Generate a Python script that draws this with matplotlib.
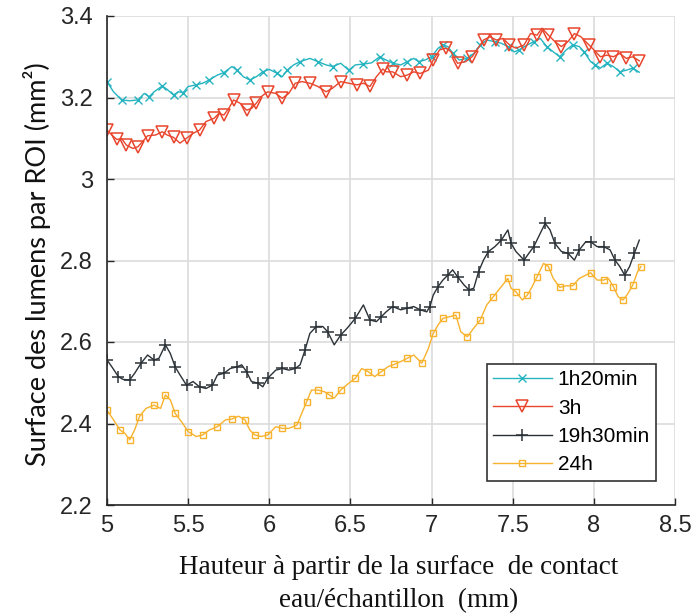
import matplotlib
matplotlib.use("Agg")
import matplotlib.pyplot as plt

# ---- data ----
x_1h20 = [5.00, 5.04, 5.09, 5.14, 5.19, 5.23, 5.26, 5.29, 5.34, 5.37, 5.41, 5.44, 5.47, 5.50,
          5.55, 5.59, 5.63, 5.68, 5.72, 5.77, 5.80, 5.84, 5.88, 5.92, 5.96, 6.00, 6.05, 6.08,
          6.11, 6.15, 6.19, 6.25, 6.30, 6.35, 6.39, 6.44, 6.49, 6.53, 6.58, 6.63, 6.68, 6.72,
          6.76, 6.81, 6.85, 6.89, 6.92, 6.96, 7.00, 7.04, 7.07, 7.10, 7.13, 7.17, 7.22, 7.26,
          7.30, 7.34, 7.39, 7.43, 7.47, 7.51, 7.54, 7.59, 7.63, 7.67, 7.71, 7.75, 7.79, 7.83,
          7.87, 7.91, 7.94, 7.98, 8.01, 8.04, 8.08, 8.12, 8.16, 8.20, 8.24, 8.28]
y_1h20 = [3.239, 3.214, 3.194, 3.192, 3.194, 3.210, 3.202, 3.214, 3.228, 3.220, 3.206, 3.214,
          3.212, 3.227, 3.231, 3.235, 3.243, 3.255, 3.261, 3.276, 3.267, 3.251, 3.243, 3.251,
          3.263, 3.269, 3.259, 3.251, 3.267, 3.280, 3.288, 3.296, 3.288, 3.280, 3.276, 3.284,
          3.267, 3.280, 3.282, 3.285, 3.300, 3.292, 3.284, 3.280, 3.288, 3.296, 3.288, 3.292,
          3.300, 3.321, 3.329, 3.325, 3.308, 3.292, 3.296, 3.308, 3.329, 3.341, 3.337, 3.333,
          3.325, 3.312, 3.317, 3.329, 3.337, 3.345, 3.325, 3.312, 3.300, 3.317, 3.329, 3.325,
          3.312, 3.288, 3.280, 3.272, 3.284, 3.276, 3.263, 3.267, 3.272, 3.262]

x_3h = [5.00, 5.03, 5.06, 5.09, 5.12, 5.16, 5.19, 5.22, 5.25, 5.30, 5.34, 5.37, 5.41, 5.45,
        5.49, 5.53, 5.57, 5.61, 5.66, 5.69, 5.72, 5.75, 5.78, 5.82, 5.86, 5.89, 5.92, 5.95,
        5.99, 6.04, 6.08, 6.12, 6.16, 6.20, 6.25, 6.30, 6.35, 6.39, 6.44, 6.49, 6.54, 6.58,
        6.62, 6.66, 6.70, 6.72, 6.76, 6.81, 6.85, 6.89, 6.93, 6.98, 7.01, 7.05, 7.09, 7.12,
        7.16, 7.21, 7.25, 7.28, 7.32, 7.36, 7.40, 7.44, 7.48, 7.52, 7.57, 7.61, 7.65, 7.68,
        7.72, 7.76, 7.80, 7.84, 7.88, 7.92, 7.97, 8.00, 8.04, 8.08, 8.12, 8.16, 8.20, 8.24, 8.28]
y_3h = [3.120, 3.108, 3.097, 3.099, 3.083, 3.075, 3.079, 3.092, 3.106, 3.108, 3.116, 3.108,
        3.102, 3.088, 3.100, 3.112, 3.120, 3.141, 3.149, 3.161, 3.157, 3.173, 3.194, 3.186,
        3.169, 3.173, 3.186, 3.202, 3.214, 3.210, 3.198, 3.210, 3.235, 3.239, 3.235, 3.227,
        3.214, 3.223, 3.239, 3.235, 3.231, 3.235, 3.227, 3.251, 3.270, 3.263, 3.263, 3.251,
        3.255, 3.263, 3.259, 3.267, 3.292, 3.317, 3.321, 3.312, 3.284, 3.288, 3.300, 3.317,
        3.341, 3.349, 3.341, 3.345, 3.329, 3.321, 3.329, 3.357, 3.353, 3.370, 3.353, 3.337,
        3.325, 3.337, 3.357, 3.349, 3.329, 3.317, 3.300, 3.304, 3.300, 3.308, 3.296, 3.300, 3.290]

x_19h30 = [5.00, 5.03, 5.07, 5.10, 5.14, 5.17, 5.21, 5.25, 5.29, 5.32, 5.36, 5.39, 5.42, 5.45,
           5.49, 5.53, 5.57, 5.61, 5.65, 5.68, 5.72, 5.76, 5.80, 5.83, 5.86, 5.89, 5.93, 5.96,
           5.99, 6.04, 6.08, 6.12, 6.16, 6.19, 6.22, 6.25, 6.29, 6.33, 6.36, 6.40, 6.44, 6.48,
           6.53, 6.58, 6.62, 6.66, 6.69, 6.72, 6.76, 6.81, 6.85, 6.89, 6.93, 6.97, 6.99, 7.01,
           7.04, 7.07, 7.10, 7.13, 7.16, 7.20, 7.23, 7.26, 7.29, 7.32, 7.35, 7.39, 7.43, 7.47,
           7.49, 7.52, 7.57, 7.60, 7.63, 7.67, 7.70, 7.73, 7.76, 7.80, 7.84, 7.88, 7.91, 7.95,
           7.98, 8.02, 8.06, 8.10, 8.13, 8.16, 8.19, 8.22, 8.25, 8.28]
y_19h30 = [2.556, 2.539, 2.515, 2.508, 2.507, 2.523, 2.548, 2.568, 2.556, 2.560, 2.593, 2.572,
           2.539, 2.519, 2.494, 2.503, 2.490, 2.486, 2.494, 2.519, 2.523, 2.535, 2.539, 2.544,
           2.527, 2.503, 2.499, 2.490, 2.511, 2.531, 2.535, 2.531, 2.535, 2.544, 2.580, 2.621,
           2.638, 2.638, 2.625, 2.593, 2.617, 2.634, 2.658, 2.691, 2.654, 2.650, 2.662, 2.674,
           2.687, 2.679, 2.683, 2.687, 2.679, 2.674, 2.687, 2.715, 2.736, 2.752, 2.764, 2.777,
           2.760, 2.740, 2.728, 2.732, 2.773, 2.801, 2.822, 2.834, 2.850, 2.875, 2.842, 2.822,
           2.801, 2.818, 2.834, 2.867, 2.891, 2.875, 2.842, 2.822, 2.818, 2.801, 2.826, 2.846,
           2.846, 2.834, 2.834, 2.826, 2.801, 2.785, 2.764, 2.785, 2.818, 2.850]

x_24h = [5.00, 5.04, 5.08, 5.11, 5.14, 5.17, 5.20, 5.24, 5.29, 5.33, 5.36, 5.39, 5.42, 5.46,
         5.50, 5.55, 5.59, 5.63, 5.68, 5.73, 5.77, 5.81, 5.85, 5.88, 5.91, 5.95, 5.99, 6.04,
         6.08, 6.12, 6.17, 6.20, 6.23, 6.26, 6.30, 6.34, 6.37, 6.40, 6.44, 6.49, 6.53, 6.57,
         6.61, 6.65, 6.69, 6.73, 6.77, 6.81, 6.85, 6.89, 6.94, 6.98, 7.01, 7.04, 7.07, 7.11,
         7.15, 7.18, 7.22, 7.26, 7.30, 7.34, 7.38, 7.43, 7.47, 7.49, 7.52, 7.56, 7.59, 7.62,
         7.65, 7.69, 7.72, 7.75, 7.79, 7.83, 7.87, 7.91, 7.98, 8.02, 8.06, 8.09, 8.12, 8.15,
         8.18, 8.21, 8.24, 8.27, 8.29]
y_24h = [2.433, 2.409, 2.384, 2.376, 2.360, 2.384, 2.417, 2.437, 2.445, 2.437, 2.470, 2.458,
         2.425, 2.404, 2.380, 2.368, 2.372, 2.384, 2.392, 2.409, 2.411, 2.418, 2.409, 2.384,
         2.372, 2.368, 2.372, 2.392, 2.388, 2.388, 2.396, 2.425, 2.453, 2.482, 2.482, 2.478,
         2.470, 2.462, 2.482, 2.499, 2.511, 2.535, 2.527, 2.515, 2.527, 2.539, 2.545, 2.552,
         2.560, 2.568, 2.548, 2.584, 2.621, 2.642, 2.658, 2.662, 2.666, 2.625, 2.613, 2.634,
         2.654, 2.691, 2.711, 2.736, 2.756, 2.732, 2.723, 2.703, 2.715, 2.736, 2.760, 2.793,
         2.785, 2.756, 2.734, 2.738, 2.738, 2.756, 2.770, 2.752, 2.752, 2.756, 2.736, 2.711,
         2.703, 2.719, 2.740, 2.773, 2.785]

series_labels = ["1h20min", "3h", "19h30min", "24h"]
x_ticks = [5, 5.5, 6, 6.5, 7, 7.5, 8, 8.5]
x_ticklabels = ["5", "5.5", "6", "6.5", "7", "7.5", "8", "8.5"]
y_ticks = [2.2, 2.4, 2.6, 2.8, 3.0, 3.2, 3.4]
y_ticklabels = ["2.2", "2.4", "2.6", "2.8", "3", "3.2", "3.4"]

# ---- figure ----
W, H = 695, 616
fig = plt.figure(figsize=(W / 100, H / 100), dpi=100)
ax = fig.add_axes([107 / W, 1 - 505 / H, (675 - 107) / W, (505 - 16) / H])

tick_font = ["Liberation Sans Narrow", "Liberation Sans", "DejaVu Sans"]

ax.plot(x_1h20, y_1h20, color="#25b4c0", lw=1.0, marker="x", ms=5.5, mew=1.0,
        markevery=2, label=series_labels[0])
ax.plot(x_3h, y_3h, color="#e8452c", lw=1.0, marker="v", ms=8, mew=1.1, mfc="none",
        markevery=2, label=series_labels[1])
ax.plot(x_19h30, y_19h30, color="#2b3237", lw=1.0, marker="+", ms=9, mew=1.1,
        markevery=2, label=series_labels[2])
ax.plot(x_24h, y_24h, color="#f7b22e", lw=1.0, marker="s", ms=5, mew=1.0, mfc="none",
        markevery=2, label=series_labels[3])

ax.set_xlim(5, 8.5)
ax.set_ylim(2.2, 3.4)
ax.set_xticks(x_ticks)
ax.set_xticklabels(x_ticklabels, family=tick_font, fontsize=17, color="#262626")
ax.set_yticks(y_ticks)
ax.set_yticklabels(y_ticklabels, family=tick_font, fontsize=17, color="#262626")
ax.tick_params(axis="y", direction="in", length=5, width=1, color="#262626", pad=10)
ax.tick_params(axis="x", direction="in", length=5, width=1, color="#262626", pad=7)

ax.grid(True, color="#dcdcdc", lw=1.2)
ax.set_axisbelow(True)
for s in ["top", "right"]:
    ax.spines[s].set_visible(False)
for s in ["left", "bottom"]:
    ax.spines[s].set_color("#262626")
    ax.spines[s].set_linewidth(1.2)

leg = ax.legend(loc="upper left", bbox_to_anchor=(487 / W, 1 - 364 / H),
                bbox_transform=fig.transFigure, borderaxespad=0, frameon=True,
                fancybox=False, edgecolor="#333333", framealpha=1,
                prop={"family": ["Liberation Sans"], "size": 15},
                handlelength=2.8, handletextpad=0.3, labelspacing=0.45,
                borderpad=0.3)
leg.get_frame().set_linewidth(1.2)

fig.text(37 / W, 1 - 264 / H, "Surface des lumens par ROI (mm²)", rotation=90,
         ha="center", va="center", fontsize=19.5, family=["Lato", "DejaVu Sans"],
         color="#111111")
fig.text(399 / W, 1 - 568 / H, "Hauteur à partir de la surface  de contact",
         ha="center", va="center", fontsize=19.5, family=["Liberation Serif"], color="#111111")
fig.text(399 / W, 1 - 601 / H, "eau/échantillon  (mm)",
         ha="center", va="center", fontsize=19.5, family=["Liberation Serif"], color="#111111")

fig.savefig("out.png", dpi=100)
